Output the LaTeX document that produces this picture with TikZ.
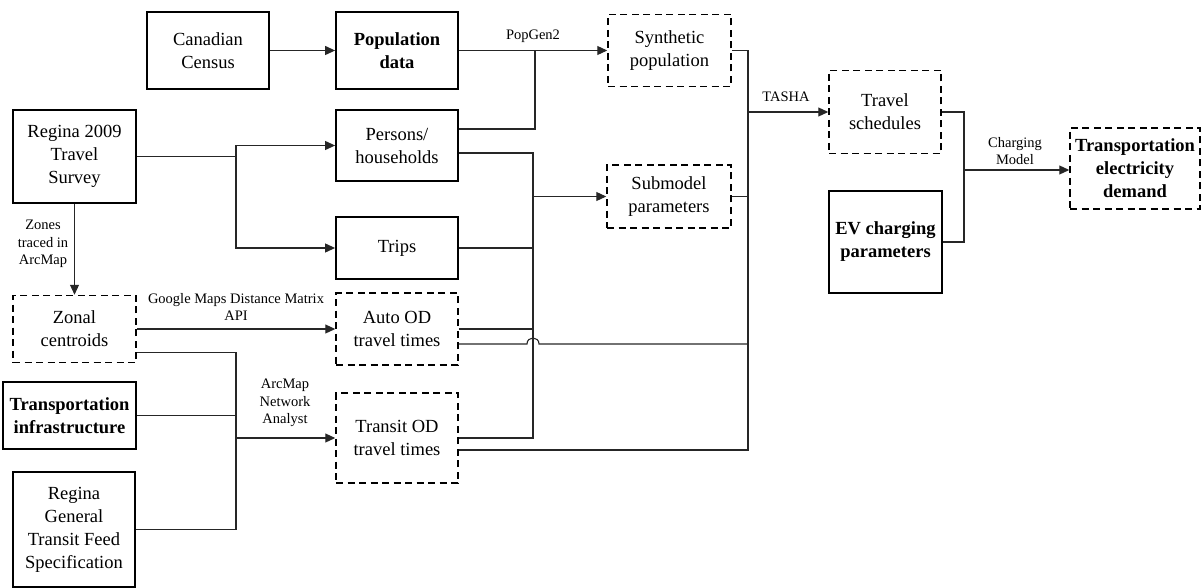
\documentclass[tikz,border=0pt]{standalone}
\usepackage{fontspec}
\setmainfont{Liberation Serif}
\newfontfamily\tnr{Liberation Serif}
\usetikzlibrary{arrows.meta}
\begin{document}
\begin{tikzpicture}[x=1pt,y=-1pt,
  box/.style={draw=black, line width=1.8pt, inner sep=0pt, align=center,
    font=\tnr\fontsize{18.5}{23}\selectfont},
  dbox/.style={box, line width=1.5pt, dash pattern=on 7pt off 4.5pt},
  bbox/.style={box, font=\tnr\fontsize{18.5}{23}\selectfont\bfseries},
  bdbox/.style={dbox, font=\tnr\fontsize{18.5}{23}\selectfont\bfseries},
  conn/.style={draw=black!85, line width=1.1pt},
  arr/.style={conn, -{Triangle[length=10pt,width=9pt]}},
  lbl/.style={align=center, inner sep=0pt, font=\tnr\fontsize{14.5}{17.5}\selectfont}]
\useasboundingbox (0,0) rectangle (1204,588);

% nodes
\node[box, minimum width=122pt, minimum height=77pt] (cc) at (208,50.5) {Canadian\\Census};
\node[bbox, minimum width=122pt, minimum height=77pt] (pop) at (397,50.5) {Population\\data};
\node[dbox, minimum width=123pt, minimum height=72pt] (syn) at (669.5,50.5) {Synthetic\\population};
\node[box, minimum width=123pt, minimum height=93pt] (rts) at (74.5,156.5) {Regina 2009\\Travel\\Survey};
\node[box, minimum width=122pt, minimum height=71pt] (per) at (397,145.5) {Persons/\\households};
\node[box, minimum width=122pt, minimum height=62pt] (trips) at (397,248) {Trips};
\node[dbox, minimum width=124pt, minimum height=63pt] (sub) at (669,196.5) {Submodel\\parameters};
\node[dbox, minimum width=122pt, minimum height=72pt] (auto) at (397,329) {Auto OD\\travel times};
\node[dbox, minimum width=123pt, minimum height=67pt] (zon) at (74.5,329) {Zonal\\centroids};
\node[bbox, minimum width=133pt, minimum height=67pt] (tinf) at (69.5,415.5) {Transportation\\infrastructure};
\node[box, minimum width=122pt, minimum height=115pt] (gtfs) at (74,529.5) {Regina\\General\\Transit Feed\\Specification};
\node[dbox, minimum width=122pt, minimum height=90pt] (transit) at (397,438) {Transit OD\\travel times};
\node[dbox, minimum width=112pt, minimum height=83pt] (tsched) at (885,112) {Travel\\schedules};
\node[bbox, minimum width=113pt, minimum height=102pt] (ev) at (885.5,242) {EV charging\\parameters};
\node[bdbox, minimum width=130pt, minimum height=81pt] (ted) at (1135,168.5) {Transportation\\electricity\\demand};

% junctions
\coordinate (j1) at (535,50.5);
\coordinate (j2) at (533,196.5);
\coordinate (j3) at (748,112);
\coordinate (j4) at (964,170);
\coordinate (j5) at (236,156.5);
\coordinate (j6) at (236,438);

% connectors
\draw[arr] (cc) -- (pop);
\draw[arr] (pop.east) -- (syn.west);
\draw[conn] ([yshift=16.5pt]per.east) -| (j1);
\node[lbl] (lpop) at (533,36) {PopGen2};

\draw[conn] ([yshift=-7.5pt]per.east) -| (j2) |- (transit.east);
\draw[conn] (trips.east) -- (trips.east -| j2);
\draw[conn] (auto.east) -- (auto.east -| j2);
\draw[arr] (j2) -- (sub.west);

\draw[conn] (syn.east) -| (j3);
\draw[conn] (sub.east) -- (sub.east -| j3);
\draw[conn] ([yshift=-12pt]transit.east) -| (j3);
\coordinate (h1) at (527,344);
\coordinate (h2) at (539,344);
\draw[conn] ([yshift=-15pt]auto.east) -- (h1) .. controls (527,336) and (539,336) .. (h2) -- (h2 -| j3);
\draw[arr] (j3) -- (tsched.west);
\node[lbl] (ltasha) at (786,97) {TASHA};

\draw[conn] (tsched.east) -| (j4);
\draw[conn] (ev.east) -| (j4);
\draw[arr] (j4) -- (j4 -| ted.west);
\node[lbl] (lcharge) at (1015,151) {Charging\\Model};

\draw[conn] (rts.east) -- (j5);
\draw[arr] (j5) |- (per.west);
\draw[arr] (j5) |- (trips.west);

\draw[arr] (rts.south) -- (zon.north);
\node[lbl] (lzones) at (43,244) {Zones\\traced in\\ArcMap};

\draw[arr] (zon.east) -- (auto.west);
\node[lbl] (lgoogle) at (236,307) {Google Maps Distance Matrix\\API};

\draw[conn] ([yshift=-23.5pt]zon.east) -| (j6) |- (gtfs.east);
\draw[conn] (tinf.east) -- (tinf.east -| j6);
\draw[arr] (j6) -- (transit.west);
\node[lbl] (larc) at (285,403) {ArcMap\\Network\\Analyst};
\end{tikzpicture}
\end{document}
